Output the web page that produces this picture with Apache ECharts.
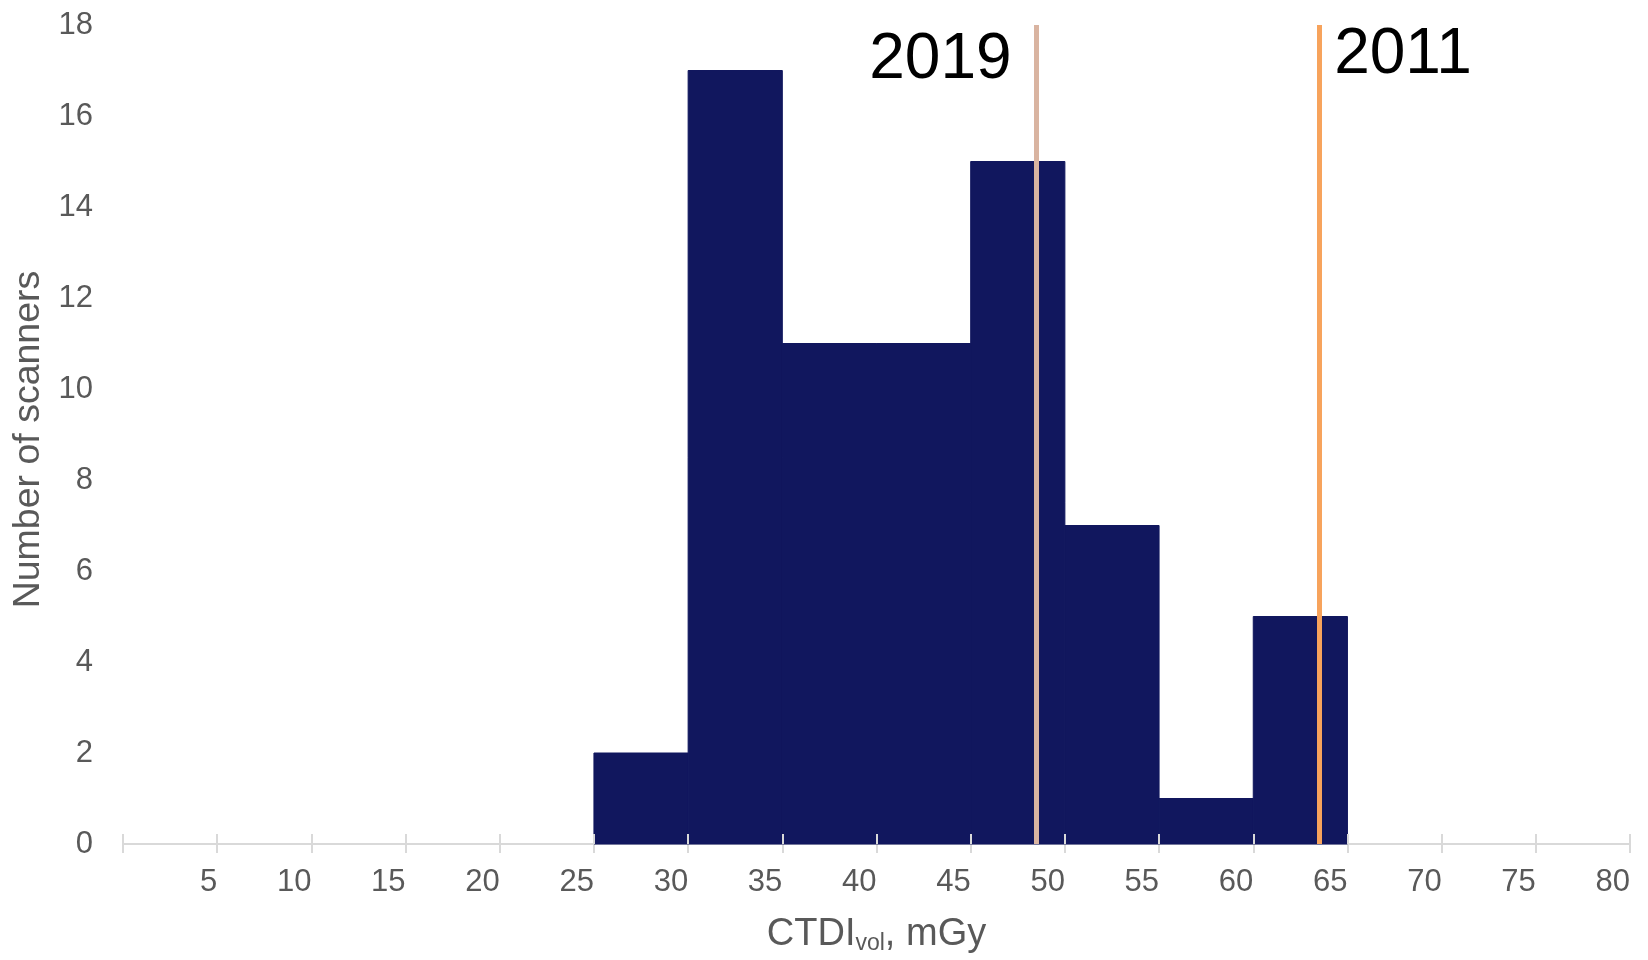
<!DOCTYPE html>
<html>
<head>
<meta charset="utf-8">
<title>CTDIvol distribution</title>
<script src="https://cdn.jsdelivr.net/npm/echarts@6/dist/echarts.min.js"></script>
<style>
  html, body { margin: 0; padding: 0; background: #ffffff; }
  #chart { width: 1648px; height: 960px; }
</style>
</head>
<body>
<div id="chart"></div>
<script>
// Histogram bins (lower edge, mGy) and scanner counts per bin
const binStarts = [25, 30, 35, 40, 45, 50, 55, 60];
const binWidth = 5;
const scannerCounts = [2, 17, 11, 11, 15, 7, 1, 5];

// Reference levels (mGy)
const refYears = ['2019', '2011'];
const refValues = [48.5, 63.5];
const refColors = ['#D9B4A1', '#F7A35C'];

// Axis ranges
const xMin = 0, xMax = 80, xStep = 5;
const yMin = 0, yMax = 18, yStep = 2;

const FONT = '"Liberation Sans", Arial, Helvetica, sans-serif';
const GREY = '#595959';
const AXIS_GREY = '#D9D9D9';
const BAR_COLOR = '#11175E';

const binData = binStarts.map((s, i) => [s, s + binWidth, scannerCounts[i]]);

const chart = echarts.init(document.getElementById('chart'));

chart.setOption({
  animation: false,
  backgroundColor: '#ffffff',
  textStyle: { fontFamily: FONT },
  grid: { left: 123, right: 18, top: 25, bottom: 109 },
  xAxis: [
    {
      type: 'value',
      min: xMin, max: xMax, interval: xStep,
      name: 'CTDI{sub|vol}, mGy',
      nameLocation: 'middle',
      nameGap: 70,
      nameTextStyle: {
        fontFamily: FONT, fontSize: 38, color: GREY,
        rich: {
          sub: { fontFamily: FONT, fontSize: 23, color: GREY, verticalAlign: 'bottom', padding: [18, 0, 0, 0] }
        }
      },
      axisLine: { show: true, lineStyle: { color: AXIS_GREY, width: 2 } },
      axisTick: { show: true, inside: false, length: 9, lineStyle: { color: AXIS_GREY, width: 2 } },
      axisLabel: {
        fontFamily: FONT, fontSize: 31, color: GREY, margin: 23, align: 'right',
        formatter: v => (v === 0 ? '' : String(v))
      },
      splitLine: { show: false }
    },
    {
      // upper half of the crossing tick marks, drawn over the bars
      type: 'value',
      position: 'bottom',
      min: xMin, max: xMax, interval: xStep,
      z: 10,
      axisLine: { show: false },
      axisTick: { show: true, inside: true, length: 10, lineStyle: { color: AXIS_GREY, width: 2 } },
      axisLabel: { show: false },
      splitLine: { show: false }
    }
  ],
  yAxis: {
    type: 'value',
    min: yMin, max: yMax, interval: yStep,
    name: 'Number of scanners',
    nameLocation: 'middle',
    nameGap: 70,
    nameTextStyle: { fontFamily: FONT, fontSize: 37.5, color: GREY, padding: [0, 10, 0, 0] },
    axisLine: { show: false },
    axisTick: { show: false },
    splitLine: { show: false },
    axisLabel: { fontFamily: FONT, fontSize: 31, color: GREY, margin: 30 }
  },
  series: [
    {
      type: 'custom',
      xAxisIndex: 0,
      z: 2,
      data: binData,
      encode: { x: [0, 1], y: 2 },
      renderItem: function (params, api) {
        const p0 = api.coord([api.value(0), api.value(2)]);
        const p1 = api.coord([api.value(1), 0]);
        return {
          type: 'rect',
          shape: { x: p0[0], y: p0[1], width: p1[0] - p0[0], height: p1[1] - p0[1] },
          style: { fill: BAR_COLOR, stroke: BAR_COLOR, lineWidth: 1 }
        };
      }
    },
    {
      type: 'line',
      xAxisIndex: 0,
      data: [],
      z: 5,
      markLine: {
        silent: true,
        symbol: 'none',
        label: { show: false },
        data: refValues.map((v, i) => [
          { coord: [v, yMin], lineStyle: { color: refColors[i], width: 5, type: 'solid' } },
          { coord: [v, yMax] }
        ])
      },
      markPoint: {
        silent: true,
        symbol: 'circle',
        symbolSize: 0,
        data: [
          {
            coord: [refValues[0], yMax],
            label: {
              show: true, formatter: refYears[0], position: 'left', distance: 25,
              offset: [0, 35], fontFamily: FONT, fontSize: 64, color: '#000000'
            }
          },
          {
            coord: [refValues[1], yMax],
            label: {
              show: true, formatter: refYears[1], position: 'right', distance: 15,
              offset: [0, 30], fontFamily: FONT, fontSize: 64, color: '#000000'
            }
          }
        ]
      }
    }
  ]
});
</script>
</body>
</html>
